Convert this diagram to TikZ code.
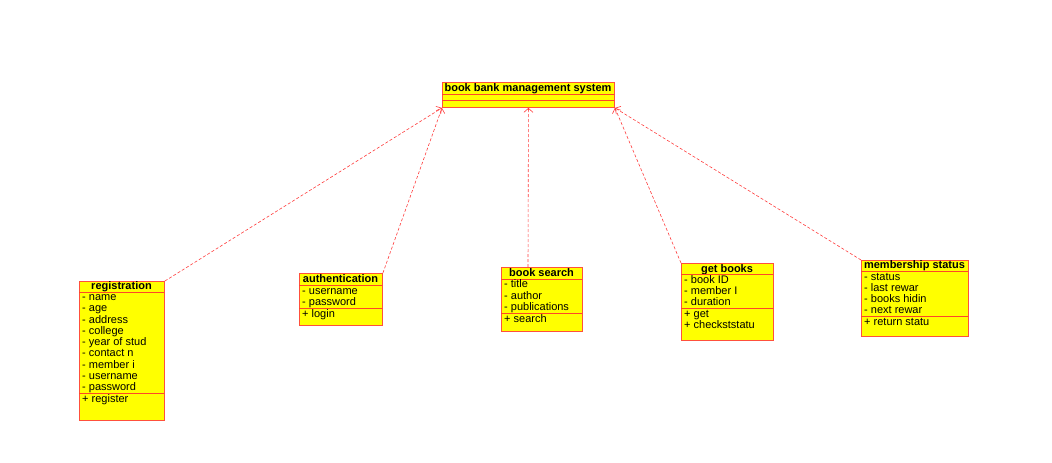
\documentclass[tikz,border=0pt]{standalone}
\usepackage{fontspec}
\setmainfont{Liberation Sans}
\usetikzlibrary{arrows.meta,calc}
\definecolor{bordercol}{RGB}{255,80,60}
\definecolor{sepcol}{RGB}{255,70,40}
\definecolor{boxfill}{RGB}{255,255,0}
\definecolor{linecol}{RGB}{255,60,60}
\tikzset{
  classbox/.style={draw=bordercol, fill=boxfill, line width=0.9pt, inner sep=0pt, anchor=north west},
  sepline/.style={draw=sepcol, line width=0.8pt},
  ctitle/.style={font=\fontsize{11}{11}\selectfont\bfseries, inner sep=0pt, text height=7.5pt, text depth=2.5pt},
  member/.style={font=\fontsize{11}{11}\selectfont, anchor=west, inner sep=0pt, text height=7.5pt, text depth=2.5pt},
  dep/.style={draw=linecol, line width=0.6pt, dash pattern=on 3pt off 2pt, -{Straight Barb[length=4pt,width=9pt]}}
}
\begin{document}
\begin{tikzpicture}[x=1pt,y=-1pt]
\useasboundingbox (0,0) rectangle (1052,463);

% system box
\node[classbox, minimum width=172pt, minimum height=25pt] (sys) at (442,82) {};
\node[ctitle] (systitle) at (528,88.5) {book bank management system};
\draw[sepline] (442,94) -- (614,94);
\draw[sepline] (442,100.5) -- (614,100.5);

% registration
\node[classbox, minimum width=85pt, minimum height=139pt] (reg) at (79,281) {};
\node[ctitle] (regtitle) at (121.5,287) {registration};
\draw[sepline] (79,292) -- (164,292);
\draw[sepline] (79,393) -- (164,393);
\foreach \t [count=\i from 0] in {- name,- age,- address,- college,- year of stud,- contact n,- member i,- username,- password}
  \node[member] (rega\i) at (82,{298+11.25*\i}) {\t};
\node[member] (regm0) at (82,399.5) {+ register};

% authentication
\node[classbox, minimum width=83pt, minimum height=52pt] (auth) at (299,273) {};
\node[ctitle] (authtitle) at (340.5,279.5) {authentication};
\draw[sepline] (299,285) -- (382,285);
\draw[sepline] (299,308) -- (382,308);
\node[member] (autha0) at (302,291.5) {- username};
\node[member] (autha1) at (302,302.5) {- password};
\node[member] (authm0) at (302,314.5) {+ login};

% book search
\node[classbox, minimum width=81pt, minimum height=64pt] (bs) at (501,267) {};
\node[ctitle] (bstitle) at (541.5,273.5) {book search};
\draw[sepline] (501,279) -- (582,279);
\draw[sepline] (501,313) -- (582,313);
\node[member] (bsa0) at (504,285) {- title};
\node[member] (bsa1) at (504,296.5) {- author};
\node[member] (bsa2) at (504,307.5) {- publications};
\node[member] (bsm0) at (504,319.5) {+ search};

% get books
\node[classbox, minimum width=92pt, minimum height=77pt] (gb) at (681,263) {};
\node[ctitle] (gbtitle) at (727,269.5) {get books};
\draw[sepline] (681,274.5) -- (773,274.5);
\draw[sepline] (681,308) -- (773,308);
\node[member] (gba0) at (684,280.5) {- book ID};
\node[member] (gba1) at (684,291.5) {- member I};
\node[member] (gba2) at (684,302.5) {- duration};
\node[member] (gbm0) at (684,314.5) {+ get};
\node[member] (gbm1) at (684,326) {+ checkststatu};

% membership status
\node[classbox, minimum width=107pt, minimum height=76pt] (ms) at (861,260) {};
\node[ctitle] (mstitle) at (914.5,266) {membership status};
\draw[sepline] (861,271) -- (968,271);
\draw[sepline] (861,316) -- (968,316);
\node[member] (msa0) at (864,277.5) {- status};
\node[member] (msa1) at (864,288.5) {- last rewar};
\node[member] (msa2) at (864,299.5) {- books hidin};
\node[member] (msa3) at (864,310.5) {- next rewar};
\node[member] (msm0) at (864,322.5) {+ return statu};

% connectors
\coordinate (bstop) at (528,267);
\draw[dep] (reg.north east) -- (sys.south west);
\draw[dep] (auth.north east) -- (sys.south west);
\draw[dep] (bstop) -- (sys.south);
\draw[dep] (gb.north west) -- (sys.south east);
\draw[dep] (ms.north west) -- (sys.south east);
\end{tikzpicture}
\end{document}
